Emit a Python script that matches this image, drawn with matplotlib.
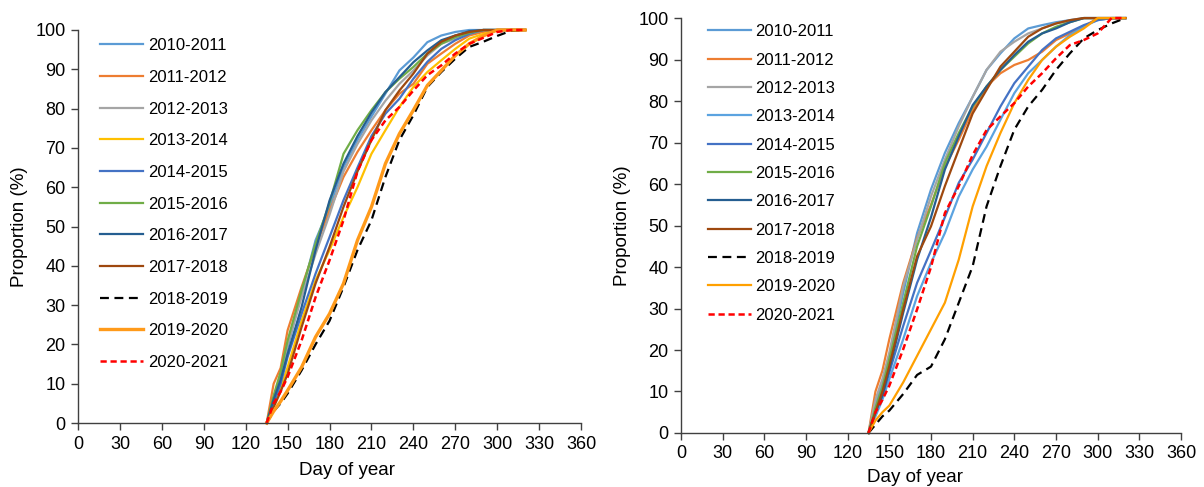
import matplotlib
matplotlib.use("Agg")
import matplotlib.pyplot as plt

plt.rcParams['font.family'] = ['Liberation Sans', 'DejaVu Sans']

labels = ["2010-2011", "2011-2012", "2012-2013", "2013-2014", "2014-2015", "2015-2016",
          "2016-2017", "2017-2018", "2018-2019", "2019-2020", "2020-2021"]

days = [135, 140, 145, 150, 160, 170, 180, 190, 200, 210, 220, 230, 240, 250, 260, 270,
        280, 290, 300, 310, 320]

# Left panel
L_2010 = [0, 6, 12, 19.3, 33, 46.5, 55, 65, 72, 78, 83.8, 89.7, 93, 96.9, 98.6, 99.5, 100, 100, 100, 100, 100]
L_2011 = [0, 10, 14, 23.6, 34.6, 44.8, 54, 62.6, 69, 74.5, 79.6, 83.8, 86.3, 91.4, 94, 96.5, 98.6, 99.5, 100, 100, 100]
L_2012 = [0, 6, 12, 20, 32, 43, 53, 64, 71, 77, 82, 86.3, 89.7, 93.5, 96.5, 97.8, 99, 100, 100, 100, 100]
L_2013 = [0, 5, 9, 14.2, 26, 36.3, 44, 52.4, 60, 68.5, 74.5, 80.4, 85.5, 89.3, 92.3, 95.2, 97.8, 99, 100, 100, 100]
L_2014 = [0, 5, 10, 16.8, 27.8, 38, 47.3, 56.7, 65, 73, 78.7, 82.5, 87.6, 91.9, 95.2, 97.4, 99, 100, 100, 100, 100]
L_2015 = [0, 7, 13, 21, 33.8, 45.6, 56, 68.5, 74.5, 79.6, 84.2, 87.6, 90.6, 94, 96.5, 98.2, 99.3, 100, 100, 100, 100]
L_2016 = [0, 6, 11, 17.6, 29.5, 44, 56.6, 66, 73, 79, 84.2, 88, 91.8, 94.8, 97.4, 98.6, 99.7, 100, 100, 100, 100]
L_2017 = [0, 4, 8, 12.5, 24.4, 35.5, 44.8, 55, 64, 72, 79.6, 84.6, 88.9, 94, 97, 98.6, 99.5, 100, 100, 100, 100]
L_2018 = [0, 3, 5, 7.5, 13.4, 20, 26, 34.6, 44, 51.6, 62.6, 72, 78.3, 85.5, 89.3, 92.7, 95.7, 97, 98.5, 99.8, 100]
L_2019 = [0, 3, 5.5, 8.3, 14.2, 21.9, 27.8, 35.5, 46.5, 55, 66, 73.6, 79.6, 85.9, 89.7, 93.5, 96.5, 98.5, 100, 100, 100]
L_2020 = [0, 5, 8, 11.7, 21, 32, 41.4, 51.6, 64, 72, 77, 80.4, 84.6, 88.5, 91, 94, 96.5, 98, 99.5, 100, 100]

# Right panel
R_2010 = [0, 7, 12, 18.6, 33.8, 48.2, 58.7, 67.5, 74.7, 81, 87.5, 91.5, 95.1, 97.5, 98.3, 99, 99.5, 100, 100, 100, 100]
R_2011 = [0, 10, 15, 22.6, 36.2, 47, 55, 64, 70.7, 77.9, 83.5, 86.7, 88.7, 89.9, 91.9, 94.7, 96.3, 97.9, 100, 100, 100]
R_2012 = [0, 8, 13, 19.4, 35.4, 46.6, 57, 65.9, 73.9, 81, 87.5, 91.9, 94.3, 96.3, 97.5, 98.7, 99.3, 100, 100, 100, 100]
R_2013 = [0, 4, 8, 13, 22.6, 33, 41, 48.2, 57, 63.5, 69, 75.5, 81.9, 86.7, 89.9, 93.1, 95.9, 98, 99.5, 100, 100]
R_2014 = [0, 5, 9, 14.6, 25.8, 36.2, 44, 52, 60.3, 65.9, 72.3, 78.7, 84.3, 88.3, 92.3, 95.1, 96.7, 98.3, 99.5, 100, 100]
R_2015 = [0, 6, 11, 17.8, 31.4, 45, 54.6, 65, 72.3, 78.7, 83.5, 87.5, 90.7, 93.9, 96.3, 97.9, 99, 100, 100, 100, 100]
R_2016 = [0, 5, 9, 15.4, 29, 41.8, 52, 63.5, 71.5, 79, 83.5, 87.5, 91.1, 94.3, 96.3, 97.5, 99, 100, 100, 100, 100]
R_2017 = [0, 5, 10, 16.2, 29.8, 42.6, 49.8, 59.5, 68.3, 77, 82.7, 88.3, 91.9, 95.5, 97.5, 98.7, 99.5, 100, 100, 100, 100]
R_2018 = [0, 2, 4, 5.4, 9.4, 14, 16, 22.6, 31.4, 40.2, 54.6, 64.3, 73.1, 78.7, 82.7, 87.5, 91.5, 95.1, 97.1, 98.7, 100]
R_2019 = [0, 3, 5, 6.6, 12.2, 18.6, 25, 31.4, 41.8, 54.6, 64.3, 72.3, 79.5, 85.1, 89.9, 93.1, 95.5, 97.5, 100, 100, 100]
R_2020 = [0, 5, 8, 11.4, 20.2, 29.8, 40, 53, 59.5, 67, 73, 76.3, 79.5, 83.5, 86.7, 90.3, 93.5, 94.7, 96.3, 100, 100]

left_series = [L_2010, L_2011, L_2012, L_2013, L_2014, L_2015, L_2016, L_2017, L_2018, L_2019, L_2020]
right_series = [R_2010, R_2011, R_2012, R_2013, R_2014, R_2015, R_2016, R_2017, R_2018, R_2019, R_2020]

left_styles = [
    dict(color="#5B9BD5", lw=1.6, ls="-"),
    dict(color="#ED7D31", lw=1.6, ls="-"),
    dict(color="#A5A5A5", lw=1.6, ls="-"),
    dict(color="#FFC000", lw=1.6, ls="-"),
    dict(color="#4472C4", lw=1.6, ls="-"),
    dict(color="#70AD47", lw=1.6, ls="-"),
    dict(color="#255E91", lw=1.6, ls="-"),
    dict(color="#9E480E", lw=1.6, ls="-"),
    dict(color="black", lw=1.6, ls=(0, (4, 2.5))),
    dict(color="#FF9A1A", lw=2.4, ls="-"),
    dict(color="#FF0000", lw=1.8, ls=(0, (2.5, 1.5))),
]
right_styles = [
    dict(color="#5B9BD5", lw=1.6, ls="-"),
    dict(color="#ED7D31", lw=1.6, ls="-"),
    dict(color="#A5A5A5", lw=1.6, ls="-"),
    dict(color="#5BA3E0", lw=1.6, ls="-"),
    dict(color="#4472C4", lw=1.6, ls="-"),
    dict(color="#70AD47", lw=1.6, ls="-"),
    dict(color="#255E91", lw=1.6, ls="-"),
    dict(color="#9E480E", lw=1.6, ls="-"),
    dict(color="black", lw=1.6, ls=(0, (4, 2.5))),
    dict(color="#FFA000", lw=1.6, ls="-"),
    dict(color="#FF0000", lw=1.8, ls=(0, (2.5, 1.5))),
]

fig = plt.figure(figsize=(12.04, 4.87), dpi=100)
axL = fig.add_axes([0.0648, 0.1314, 0.4178, 0.807])
axR = fig.add_axes([0.5656, 0.1109, 0.4153, 0.852])

def style_axis(ax):
    ax.set_xlim(0, 360)
    ax.set_ylim(0, 100)
    ax.set_xticks(range(0, 361, 30))
    ax.set_yticks(range(0, 101, 10))
    for s in ["top", "right"]:
        ax.spines[s].set_visible(False)
    for s in ["left", "bottom"]:
        ax.spines[s].set_color("#404040")
        ax.spines[s].set_linewidth(1.0)
    ax.tick_params(axis="both", direction="out", length=5, width=1.0, color="#404040",
                   labelsize=13, labelcolor="black", pad=4)
    ax.set_xlabel("Day of year", fontsize=13.5)
    ax.set_ylabel("Proportion (%)", fontsize=13.5, labelpad=5)

for ax, series, styles in [(axL, left_series, left_styles), (axR, right_series, right_styles)]:
    for lab, vals, st in zip(labels, series, styles):
        ax.plot(days, vals, label=lab, clip_on=False, **st)
    style_axis(ax)

axL.xaxis.set_label_coords(0.535, -0.100)
axR.xaxis.set_label_coords(0.468, -0.087)

axL.legend(loc="upper left", bbox_to_anchor=(0.044, 0.979), frameon=False, fontsize=12,
           handlelength=2.6, handletextpad=0.25, labelspacing=1.0, borderaxespad=0, borderpad=0)
axR.legend(loc="upper left", bbox_to_anchor=(0.054, 0.985), frameon=False, fontsize=12,
           handlelength=2.6, handletextpad=0.25, labelspacing=0.8, borderaxespad=0, borderpad=0)

fig.savefig("out.png", dpi=100)
